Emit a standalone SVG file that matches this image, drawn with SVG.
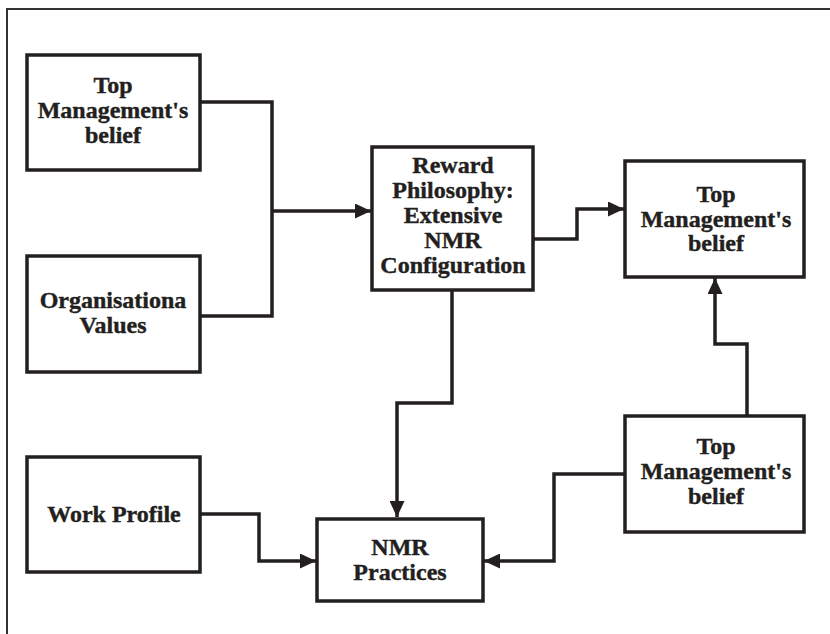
<svg xmlns="http://www.w3.org/2000/svg" width="830" height="634" viewBox="0 0 830 634">
<defs>
<style>
.box{fill:#ffffff;stroke:#231f20;stroke-width:3.5}
.lbl{font-family:"Liberation Serif","Times New Roman",serif;font-weight:bold;font-size:24px;fill:#231f20;stroke:#231f20;stroke-width:0.4;text-anchor:middle}
.con{fill:none;stroke:#231f20;stroke-width:3.5}
.frame{fill:none;stroke:#333333;stroke-width:2}
</style>
<marker id="arr" markerUnits="userSpaceOnUse" markerWidth="17" markerHeight="15" refX="16" refY="7.5" orient="auto">
<path d="M0,0 L16,7.5 L0,15 Z" fill="#231f20"/>
</marker>
</defs>
<rect width="830" height="634" fill="#ffffff"/>
<path class="frame" d="M7,634 V9 H830"/>
<g id="connectors">
<path class="con" d="M200,102 H272 V316 H200"/>
<path class="con" d="M272,211 H371" marker-end="url(#arr)"/>
<path class="con" d="M533,239 H577 V209 H624" marker-end="url(#arr)"/>
<path class="con" d="M452,290 V403 H397 V517" marker-end="url(#arr)"/>
<path class="con" d="M200,514 H259 V561 H316" marker-end="url(#arr)"/>
<path class="con" d="M625,474 H554 V561 H484" marker-end="url(#arr)"/>
<path class="con" d="M747,416 V344 H715 V278" marker-end="url(#arr)"/>
</g>
<g id="top-management-belief-1">
<rect class="box" x="27" y="55" width="173" height="115"/>
<text class="lbl" x="113" y="93">Top</text>
<text class="lbl" x="113" y="118">Management's</text>
<text class="lbl" x="113" y="143">belief</text>
</g>
<g id="organisational-values">
<rect class="box" x="27" y="256" width="173" height="116"/>
<text class="lbl" x="113" y="308">Organisationa</text>
<text class="lbl" x="113" y="333">Values</text>
</g>
<g id="reward-philosophy">
<rect class="box" x="372" y="147" width="161" height="143"/>
<text class="lbl" x="453" y="173">Reward</text>
<text class="lbl" x="453" y="198">Philosophy:</text>
<text class="lbl" x="453" y="223">Extensive</text>
<text class="lbl" x="453" y="248">NMR</text>
<text class="lbl" x="453" y="273">Configuration</text>
</g>
<g id="top-management-belief-2">
<rect class="box" x="625" y="161" width="179" height="116"/>
<text class="lbl" x="716" y="202">Top</text>
<text class="lbl" x="716" y="226.5">Management's</text>
<text class="lbl" x="716" y="251">belief</text>
</g>
<g id="top-management-belief-3">
<rect class="box" x="625" y="416" width="179" height="116"/>
<text class="lbl" x="716" y="454">Top</text>
<text class="lbl" x="716" y="479">Management's</text>
<text class="lbl" x="716" y="504">belief</text>
</g>
<g id="work-profile">
<rect class="box" x="27" y="457" width="173" height="115"/>
<text class="lbl" x="114" y="522">Work Profile</text>
</g>
<g id="nmr-practices">
<rect class="box" x="317" y="519" width="166" height="82"/>
<text class="lbl" x="400" y="555">NMR</text>
<text class="lbl" x="400" y="580">Practices</text>
</g>
</svg>
